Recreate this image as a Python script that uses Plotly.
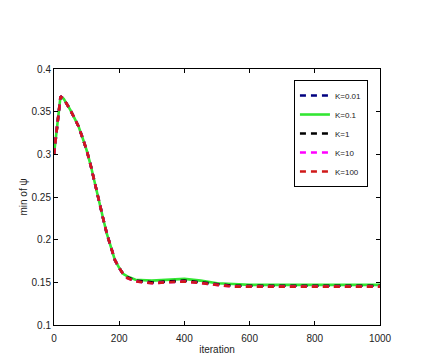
import plotly.graph_objects as go

# iteration grid and min-of-psi values
iters = [0, 10, 20, 30, 40, 50, 62, 75, 87, 100, 112, 125, 137, 150, 162, 175, 187, 200,
         212, 225, 250, 300, 350, 400, 450, 500, 550, 600, 700, 800, 900, 1000]

rise = [0.300, 0.336, 0.368, 0.365, 0.359, 0.352, 0.343, 0.333, 0.320, 0.305, 0.288,
        0.268, 0.247, 0.226, 0.207, 0.190, 0.176, 0.167, 0.160, 0.156]

psi_k001 = rise + [0.152, 0.150, 0.151, 0.152, 0.150, 0.148, 0.146, 0.146, 0.146,
                   0.146, 0.146, 0.146]
psi_k01 = rise[:-1] + [0.157, 0.153, 0.152, 0.153, 0.154, 0.152, 0.149, 0.148, 0.147,
                       0.147, 0.147, 0.147, 0.147]
psi_k1 = rise + [0.152, 0.150, 0.151, 0.152, 0.150, 0.148, 0.146, 0.146, 0.146,
                 0.146, 0.146, 0.146]
psi_k10 = rise[:-1] + [0.155, 0.151, 0.149, 0.150, 0.151, 0.149, 0.147, 0.145, 0.145,
                       0.145, 0.145, 0.145, 0.145]
psi_k100 = rise[:-1] + [0.155, 0.151, 0.149, 0.150, 0.151, 0.149, 0.147, 0.145, 0.145,
                        0.145, 0.145, 0.145, 0.145]

series = [
  ("K=0.01", psi_k001, "#000080", "6px,5px"),
  ("K=0.1", psi_k01, "#33e633", "solid"),
  ("K=1", psi_k1, "#000000", "6px,5px"),
  ("K=10", psi_k10, "#ff00ff", "6px,5px"),
  ("K=100", psi_k100, "#d01818", "6px,5px"),
]

x_ticks = [0, 200, 400, 600, 800, 1000]
y_ticks = [0.1, 0.15, 0.2, 0.25, 0.3, 0.35, 0.4]
y_labels = ["0.1", "0.15", "0.2", "0.25", "0.3", "0.35", "0.4"]

fig = go.Figure()
for name, vals, color, dash in series:
  fig.add_trace(
    go.Scatter(
      x=iters,
      y=vals,
      mode="lines",
      name=name,
      line=dict(color=color, width=2.6, dash=dash),
    )
  )

axis_common = dict(
  showgrid=False,
  zeroline=False,
  showline=True,
  linecolor="black",
  linewidth=1,
  mirror="ticks",
  ticks="inside",
  ticklen=4,
  tickcolor="black",
  tickfont=dict(size=10, color="#222"),
  automargin=False,
)

fig.update_xaxes(
  range=[0, 1000],
  tickvals=x_ticks,
  ticklabelstandoff=4,
  title=dict(text="iteration", font=dict(size=10, color="#222"), standoff=2),
  **axis_common,
)
fig.update_yaxes(
  range=[0.1, 0.4],
  tickvals=y_ticks,
  ticktext=y_labels,
  title=dict(text="min of ψ", font=dict(size=10, color="#222"), standoff=2),
  **axis_common,
)

# the page body adds an 8px margin, so the figure is a bit smaller than the window
fig.update_layout(
  width=433,
  height=352,
  paper_bgcolor="white",
  plot_bgcolor="white",
  font=dict(family="Liberation Sans, Arial, sans-serif", size=10, color="#222"),
  margin=dict(l=46, r=61, t=61, b=35),
  showlegend=True,
  legend=dict(
    x=0.963,
    y=0.957,
    xanchor="right",
    yanchor="top",
    bgcolor="white",
    bordercolor="black",
    borderwidth=1,
    font=dict(size=8),
    itemwidth=30,
    tracegroupgap=0,
  ),
)

fig.write_html("out.html")
